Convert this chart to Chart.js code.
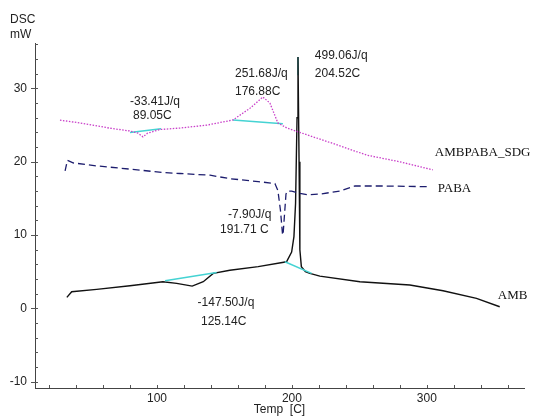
<!DOCTYPE html>
<html><head><meta charset="utf-8">
<script src="https://cdn.jsdelivr.net/npm/chart.js@4/dist/chart.umd.min.js"></script>
<style>html,body{margin:0;padding:0;background:#fff;}#wrap{width:539px;height:418px;position:relative;}</style>
</head><body><div id="wrap"><canvas id="c" width="539" height="418"></canvas></div>
<script>
// ---- data (temperature in C, DSC in mW) ----
const ambTemp = [33.2, 36.8, 55.3, 80, 104.4, 114.6, 126.1, 134.3, 141.7, 154, 175, 196, 199.8, 201.5, 202.7, 203.8, 204.5, 205.3, 205.9, 207, 210, 213.3, 220.7, 250.4, 287.4, 312, 336.8, 354];
const ambDsc  = [1.51, 2.28, 2.6, 3.1, 3.64, 3.42, 3.05, 3.64, 4.78, 5.2, 5.7, 6.36, 7.7, 9.8, 14.3, 26, 34.3, 20, 8, 5.7, 5.0, 4.78, 4.41, 3.64, 3.19, 2.42, 1.38, 0.23];

const pabaTemp = [31.9, 33.6, 37.8, 55.3, 80, 104.4, 117, 139.3, 154, 175, 187.4, 189.6, 191.5, 193.1, 193.5, 195.6, 196.5, 199.8, 206, 212, 220.7, 235.6, 246.7, 267.4, 302.2];
const pabaDsc  = [18.76, 20.2, 19.85, 19.44, 19.0, 18.54, 18.4, 18.17, 17.7, 17.3, 17.04, 16.1, 13.4, 10.0, 10.2, 15.6, 16.0, 16.0, 15.7, 15.5, 15.6, 16.0, 16.7, 16.7, 16.6];

const sdgTemp = [28.1, 43, 65.2, 80, 86, 89.6, 93, 102.2, 117, 137, 156.3, 168.9, 178.5, 183.7, 189.6, 196.3, 205.9, 230.4, 255.6, 280, 304.4];
const sdgDsc  = [25.67, 25.3, 24.58, 24.2, 23.9, 23.4, 23.9, 24.4, 24.6, 25.0, 25.7, 27.3, 28.84, 28.0, 25.3, 24.6, 24.0, 22.5, 20.9, 20.0, 18.9];

// integration baselines (cyan)
const baseSdgDipTemp = [80, 103];     const baseSdgDipDsc = [24.0, 24.5];
const baseSdgPeakTemp = [156.3, 193.3]; const baseSdgPeakDsc = [25.7, 25.2];
const baseAmbDipTemp = [106, 144.2];  const baseAmbDipDsc = [3.78, 4.9];
const baseAmbSpikeTemp = [194.8, 214.6]; const baseAmbSpikeDsc = [6.36, 4.78];
const baseAmbTopTemp = [204.5, 204.5]; const baseAmbTopDsc = [34.3, 31.8];

// peak annotations (text lines, anchor in data units)
const noteText = [["-33.41J/q","89.05C"],["251.68J/q","176.88C"],["499.06J/q","204.52C"],["-7.90J/q","191.71 C"],["-147.50J/q","125.14C"]];
const noteTemp = [80, 157.8, 217, 152.6, 130.1];
const noteDsc  = [28.16, 32.03, 34.52, 12.72, 0.74];
const noteTemp2 = [82.2, 157.8, 217, 146.7, 132.6];
const noteDsc2  = [26.35, 29.52, 32.03, 10.68, -1.85];

// series names
const seriesNames = ["AMBPABA_SDG", "PABA", "AMB"];
const seriesNameTemp = [305.9, 308.1, 352.6];
const seriesNameDsc  = [21.3, 16.4, 1.69];

// axes
const xMajor = [100, 200, 300];
const xMinor = [20,40,60,80,100,120,140,160,180,200,220,240,260,280,300,320,340,360];
const yMajor = [-10, 0, 10, 20, 30];
const yMinor = [-10,-8,-6,-4,-2,0,2,4,6,8,10,12,14,16,18,20,22,24,26,28,30,32,34,36];

const pts = (t, v) => t.map((x, i) => ({x: x, y: v[i]}));
const CYAN = '#45d3d3';

const ticksPlugin = {
  id: 'ticksPlugin',
  afterDraw(chart) {
    const ctx = chart.ctx, xs = chart.scales.x, ys = chart.scales.y, a = chart.chartArea;
    ctx.save();
    ctx.strokeStyle = '#555'; ctx.lineWidth = 1;
    ctx.beginPath();
    xMinor.forEach(v => {
      const p = Math.round(xs.getPixelForValue(v)) + 0.5;
      ctx.moveTo(p, a.bottom); ctx.lineTo(p, a.bottom - 3);
    });
    yMinor.forEach(v => {
      const p = Math.round(ys.getPixelForValue(v)) + 0.5;
      const maj = yMajor.includes(v);
      ctx.moveTo(a.left - (maj ? 4 : 0), p); ctx.lineTo(a.left + 3, p);
    });
    ctx.stroke();
    // text annotations
    ctx.fillStyle = '#222';
    ctx.font = '12px "Liberation Sans", Arial, sans-serif';
    ctx.textAlign = 'left'; ctx.textBaseline = 'middle';
    noteText.forEach((lines, i) => {
      ctx.fillText(lines[0], xs.getPixelForValue(noteTemp[i]), ys.getPixelForValue(noteDsc[i]));
      ctx.fillText(lines[1], xs.getPixelForValue(noteTemp2[i]), ys.getPixelForValue(noteDsc2[i]));
    });
    ctx.fillStyle = '#111';
    ctx.font = '13px "Liberation Serif", "Times New Roman", serif';
    seriesNames.forEach((s, i) => {
      ctx.fillText(s, xs.getPixelForValue(seriesNameTemp[i]), ys.getPixelForValue(seriesNameDsc[i]));
    });
    ctx.fillStyle = '#222';
    ctx.font = '12px "Liberation Sans", Arial, sans-serif';
    ctx.fillText('DSC', 10, 20);
    ctx.fillText('mW', 10, 35);
    ctx.restore();
  }
};

const ds = (label, t, v, color, dash, width) => ({
  label, data: pts(t, v), borderColor: color, borderWidth: width, borderDash: dash,
  pointRadius: 0, tension: 0, fill: false, showLine: true
});

new Chart(document.getElementById('c'), {
  type: 'line',
  data: {
    datasets: [
      ds('AMBPABA_SDG', sdgTemp, sdgDsc, '#c93fc9', [1.5, 1.5], 1.3),
      ds('PABA', pabaTemp, pabaDsc, '#1d1d6e', [7, 4], 1.3),
      ds('base1', baseSdgDipTemp, baseSdgDipDsc, CYAN, [], 1.5),
      ds('base2', baseSdgPeakTemp, baseSdgPeakDsc, CYAN, [], 1.5),
      ds('base3', baseAmbDipTemp, baseAmbDipDsc, CYAN, [], 1.5),
      ds('base4', baseAmbSpikeTemp, baseAmbSpikeDsc, CYAN, [], 1.5),
      ds('AMB', ambTemp, ambDsc, '#111', [], 1.4),
      ds('base5', baseAmbTopTemp, baseAmbTopDsc, CYAN, [], 1.5)
    ]
  },
  options: {
    responsive: false, animation: false,
    layout: { padding: { top: 43, right: 15, left: 0, bottom: 0 } },
    plugins: { legend: { display: false }, tooltip: { enabled: false } },
    scales: {
      x: {
        type: 'linear', min: 9.6, max: 372,
        grid: { display: false, drawTicks: false },
        border: { display: true, color: '#444', width: 1 },
        afterBuildTicks: s => { s.ticks = xMinor.map(v => ({value: v})); },
        afterFit: s => { s.height = 30; },
        ticks: { autoSkip: false, maxRotation: 0, padding: 3, color: '#222',
          font: { family: '"Liberation Sans", Arial, sans-serif', size: 12 },
          callback: v => xMajor.includes(v) ? String(v) : '' },
        title: { display: true, text: 'Temp  [C]', color: '#222', padding: { top: 0, bottom: 1 },
          font: { family: '"Liberation Sans", Arial, sans-serif', size: 12 } }
      },
      y: {
        type: 'linear', min: -10.85, max: 36.2,
        grid: { display: false, drawTicks: false },
        border: { display: true, color: '#444', width: 1 },
        afterBuildTicks: s => { s.ticks = yMinor.map(v => ({value: v})); },
        afterFit: s => { s.width = 35; },
        ticks: { autoSkip: false, padding: 8, color: '#222',
          font: { family: '"Liberation Sans", Arial, sans-serif', size: 12 },
          callback: v => yMajor.includes(v) ? String(v) : '' }
      }
    }
  },
  plugins: [ticksPlugin]
});
</script>
</body></html>
